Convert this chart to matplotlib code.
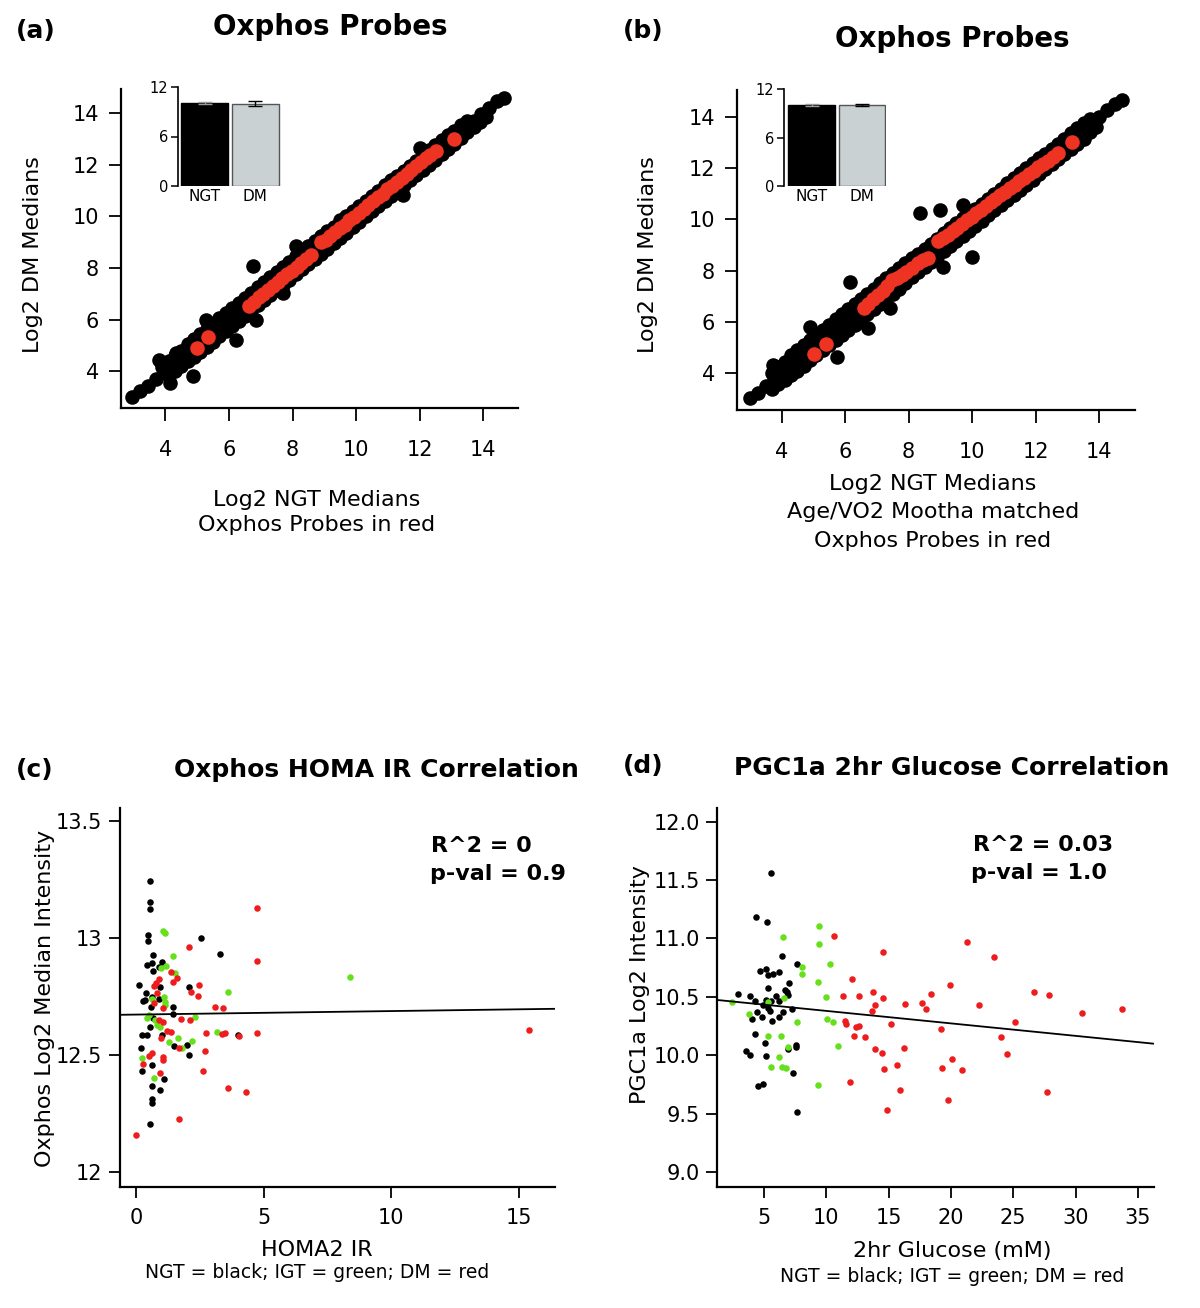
import matplotlib
matplotlib.use('Agg')
import matplotlib.pyplot as plt

plt.rcParams['font.family'] = ['DejaVu Sans']

# ---------------- data: panel (a) ----------------
a_c_x = [2.95,3.2,3.45,3.7,3.95,4.2,4.45,4.7,4.95,5.2,5.45,5.7,5.95,6.2,6.45,6.7,6.95,7.2,7.45,7.7,7.95,8.2,8.45,8.7,
         8.95,9.2,9.45,9.7,9.95,10.2,10.45,10.7,10.95,11.2,11.45,11.7,11.95,12.2,12.45,12.7,12.95,13.2,13.45,13.7,13.95,14.2,14.45,14.65]
a_c_y = [3.0,3.22,3.44,3.72,3.93,4.22,4.43,4.72,4.93,5.22,5.43,5.72,5.95,6.22,6.43,6.72,6.93,7.22,7.45,7.72,7.93,8.22,8.45,8.72,
         8.95,9.22,9.45,9.72,9.95,10.22,10.45,10.72,10.95,11.2,11.45,11.7,11.95,12.2,12.45,12.7,12.95,13.2,13.45,13.7,13.95,14.2,14.45,14.6]
a_up_x = [3.9,4.3,4.7,5.1,5.5,5.9,6.3,6.7,7.1,7.5,7.9,8.3,8.7,9.1,9.5,9.9,10.3,10.7,11.1,11.5,11.9,12.3,12.7,13.1,13.5]
a_up_y = [4.15,4.6,5.05,5.45,5.85,6.25,6.65,7.05,7.45,7.85,8.25,8.65,9.05,9.45,9.85,10.2,10.6,11.0,11.4,11.75,12.15,12.55,12.95,13.3,13.7]
a_up2_x = [4.1,4.5,4.9,5.3,5.7,6.1,6.5,6.9,7.3,7.7,8.1,8.5,8.9,9.3,9.7,10.1,10.5,10.9,11.3,11.7,12.1,12.5,12.9,13.3]
a_up2_y = [4.4,4.8,5.25,5.65,6.05,6.45,6.85,7.25,7.65,8.05,8.45,8.85,9.25,9.6,10.0,10.4,10.8,11.2,11.55,11.95,12.35,12.75,13.15,13.55]
a_lo_x = [4.1,4.5,4.9,5.3,5.7,6.1,6.5,6.9,7.3,7.7,8.1,8.5,8.9,9.3,9.7,10.1,10.5,10.9,11.3,11.7,12.1,12.5,12.9,13.3,13.7,14.1]
a_lo_y = [3.85,4.2,4.55,4.95,5.35,5.75,6.15,6.55,6.95,7.35,7.75,8.15,8.55,8.95,9.35,9.8,10.2,10.6,11.0,11.4,11.8,12.2,12.6,13.05,13.45,13.85]
a_lo2_x = [4.3,4.7,5.1,5.5,5.9,6.3,6.7,7.1,7.5,7.9,8.3,8.7,9.1,9.5,9.9,10.3,10.7,11.1,11.5,11.9,12.3,12.7,13.1,13.5,13.9]
a_lo2_y = [4.0,4.4,4.75,5.15,5.55,5.95,6.35,6.75,7.15,7.55,7.95,8.35,8.75,9.15,9.6,10.0,10.4,10.8,11.2,11.6,12.0,12.4,12.8,13.25,13.65]
a_out_x = [6.75,6.23,6.86,7.70,8.12,4.86,3.81,12.0,11.48,5.28,4.34,4.13]
a_out_y = [8.06,5.23,6.0,7.03,8.84,3.81,4.45,12.65,10.84,6.0,4.71,3.55]
ra_x = [4.98,5.33,6.63,6.78,6.93,7.08,7.23,7.38,7.53,7.68,7.83,7.98,8.13,8.28,8.43,8.57,
        8.89,9.04,9.19,9.34,9.49,9.64,9.79,9.94,10.09,10.24,10.39,10.54,10.69,10.84,10.99,11.14,11.29,11.44,
        11.59,11.74,11.89,12.04,12.19,12.34,12.52,13.1]
ra_y = [4.92,5.31,6.54,6.70,6.86,7.00,7.15,7.31,7.45,7.60,7.76,7.90,8.05,8.21,8.35,8.49,
        9.01,9.10,9.24,9.38,9.55,9.68,9.84,9.99,10.13,10.28,10.44,10.58,10.74,10.88,11.04,11.18,11.34,11.49,
        11.63,11.79,11.94,12.09,12.24,12.38,12.53,13.0]

# ---------------- data: panel (b) ----------------
b_c_x = [3.0,3.25,3.5,3.75,4.0,4.25,4.5,4.75,5.0,5.25,5.5,5.75,6.0,6.25,6.5,6.75,7.0,7.25,7.5,7.75,8.0,8.25,8.5,8.75,
         9.0,9.25,9.5,9.75,10.0,10.25,10.5,10.75,11.0,11.25,11.5,11.75,12.0,12.25,12.5,12.75,13.0,13.25,13.5,13.75,14.0,14.25,14.5,14.7]
b_c_y = [3.02,3.23,3.5,3.73,4.02,4.23,4.5,4.77,5.0,5.27,5.5,5.77,6.02,6.27,6.5,6.77,7.02,7.25,7.5,7.77,8.0,8.27,8.5,8.77,
         9.02,9.25,9.5,9.75,10.0,10.25,10.5,10.75,11.0,11.25,11.5,11.75,12.0,12.25,12.5,12.75,13.0,13.25,13.5,13.75,14.0,14.25,14.5,14.65]
b_up_x = [3.7,4.1,4.5,4.9,5.3,5.7,6.1,6.5,6.9,7.3,7.7,8.1,8.5,8.9,9.3,9.7,10.1,10.5,10.9,11.3,11.7,12.1,12.5,12.9,13.3,13.7]
b_up_y = [4.0,4.45,4.9,5.3,5.7,6.1,6.5,6.9,7.3,7.7,8.1,8.5,8.85,9.25,9.65,10.05,10.4,10.8,11.2,11.6,12.0,12.4,12.75,13.15,13.55,13.9]
b_up2_x = [3.9,4.3,4.7,5.1,5.5,5.9,6.3,6.7,7.1,7.5,7.9,8.3,8.7,9.1,9.5,9.9,10.3,10.7,11.1,11.5,11.9,12.3,12.7,13.1,13.5]
b_up2_y = [4.25,4.7,5.1,5.5,5.9,6.3,6.7,7.1,7.5,7.9,8.3,8.65,9.05,9.45,9.85,10.25,10.6,11.0,11.4,11.8,12.2,12.55,12.95,13.35,13.75]
b_lo_x = [3.9,4.3,4.7,5.1,5.5,5.9,6.3,6.7,7.1,7.5,7.9,8.3,8.7,9.1,9.5,9.9,10.3,10.7,11.1,11.5,11.9,12.3,12.7,13.1,13.5,13.9]
b_lo_y = [3.6,3.95,4.3,4.7,5.1,5.5,5.9,6.3,6.7,7.1,7.5,7.95,8.35,8.75,9.15,9.55,9.95,10.35,10.75,11.15,11.55,11.95,12.35,12.75,13.15,13.6]
b_lo2_x = [3.7,4.1,4.5,4.9,5.3,5.7,6.1,6.5,6.9,7.3,7.7,8.1,8.5,8.9,9.3,9.7,10.1,10.5,10.9,11.3,11.7,12.1,12.5,12.9,13.3,13.7]
b_lo2_y = [3.4,3.75,4.1,4.5,4.9,5.3,5.7,6.1,6.5,6.9,7.3,7.75,8.15,8.55,8.95,9.35,9.75,10.15,10.55,10.95,11.35,11.75,12.15,12.55,12.95,13.4]
b_out_x = [8.35,8.98,9.72,9.98,6.15,6.73,7.41,5.73,9.09,3.74,11.40,4.89]
b_out_y = [10.24,10.37,10.56,8.54,7.57,5.75,6.53,4.65,8.15,4.32,11.14,5.82]
rb_x = [5.01,5.41,6.58,6.73,6.88,7.03,7.18,7.33,7.48,7.63,7.78,7.93,8.10,8.30,8.46,8.62,
        8.93,9.08,9.23,9.38,9.53,9.68,9.83,9.98,10.13,10.28,10.43,10.58,10.73,10.88,11.03,11.18,11.33,11.48,
        11.63,11.78,11.93,12.08,12.23,12.38,12.55,12.71,13.13]
rb_y = [4.75,5.14,6.55,6.72,6.88,7.06,7.22,7.42,7.65,7.72,7.82,7.95,8.09,8.28,8.40,8.50,
        9.15,9.26,9.40,9.54,9.68,9.82,9.96,10.10,10.24,10.38,10.52,10.66,10.80,10.93,11.07,11.21,11.35,11.48,
        11.62,11.75,11.89,12.02,12.15,12.29,12.44,12.57,13.03]

# inset bar data
bar_groups = ['NGT', 'DM']
bar_a = [10.05, 10.0]
err_a = [0.1, 0.3]
bar_b = [10.05, 10.0]
err_b = [0.1, 0.12]

# ---------------- data: panel (c) ----------------
c_ngt_x = [0.55,0.55,0.55,0.48,0.46,0.68,2.54,3.31,0.42,0.62,1.01,0.68,0.88,0.13,0.94,2.09,0.39,0.29,0.35,0.62,0.91,
           0.58,1.46,1.46,0.68,0.55,0.25,0.44,1.01,0.20,1.49,1.99,2.07,4.01,0.22,0.62,1.11,0.62,0.94,0.62,0.64,0.55]
c_ngt_y = [13.244,13.155,13.124,13.013,12.987,12.926,13.00,12.934,12.883,12.892,12.899,12.861,12.877,12.80,12.79,12.79,
           12.767,12.731,12.735,12.749,12.739,12.706,12.706,12.674,12.657,12.621,12.584,12.584,12.585,12.531,12.538,12.543,
           12.50,12.584,12.432,12.457,12.399,12.368,12.350,12.311,12.294,12.205]
c_igt_x = [1.06,1.12,1.46,1.16,0.98,1.53,3.59,0.64,1.10,1.14,1.14,0.52,0.42,0.75,0.94,0.81,2.31,3.16,1.31,1.63,2.21,
           1.80,0.22,0.72,8.39]
c_igt_y = [13.03,13.02,12.923,12.882,12.87,12.849,12.768,12.738,12.749,12.728,12.714,12.671,12.657,12.65,12.621,12.628,
           12.661,12.598,12.554,12.573,12.558,12.529,12.489,12.401,12.832]
c_dm_x = [4.73,4.76,4.73,2.07,1.37,1.62,1.43,0.88,0.78,0.71,2.46,0.84,0.71,2.14,2.42,1.07,3.10,3.40,0.88,1.05,1.76,2.12,
          1.20,1.36,0.97,2.75,3.36,3.49,4.03,1.67,2.69,0.62,0.52,1.05,1.05,0.26,2.64,0.94,3.59,4.30,1.70,0.0,15.42]
c_dm_y = [13.128,12.902,12.593,12.963,12.853,12.83,12.814,12.825,12.806,12.795,12.80,12.767,12.721,12.768,12.754,12.70,
          12.704,12.703,12.65,12.642,12.654,12.65,12.603,12.598,12.573,12.593,12.588,12.595,12.581,12.529,12.516,12.507,
          12.496,12.493,12.479,12.46,12.432,12.422,12.358,12.343,12.226,12.16,12.607]
fit_c = (12.673, 0.0015)   # intercept, slope

# ---------------- data: panel (d) ----------------
d_ngt_x = [5.54,4.33,5.22,6.42,7.63,4.65,5.14,5.35,5.72,6.20,7.01,5.35,6.64,6.85,6.88,2.94,3.85,5.94,5.19,4.31,6.20,5.59,
           4.92,7.22,5.32,5.51,4.04,4.82,5.64,6.16,6.48,4.47,4.25,5.06,3.53,3.85,5.14,6.93,7.57,7.60,7.33,4.52,4.92,7.65]
d_ngt_y = [11.558,11.181,11.139,10.853,10.782,10.719,10.739,10.688,10.697,10.711,10.622,10.574,10.559,10.545,10.517,10.525,
           10.511,10.511,10.474,10.468,10.465,10.463,10.429,10.394,10.403,10.382,10.311,10.326,10.294,10.326,10.369,10.369,
           10.18,10.106,10.038,10.001,9.995,10.052,10.086,10.069,9.847,9.738,9.755,9.513]
d_igt_x = [2.43,6.53,9.39,9.39,10.33,8.08,8.03,9.29,10.01,6.61,5.30,3.75,10.09,10.54,7.65,5.35,6.32,6.93,10.94,6.20,5.54,
           6.40,6.74,9.34]
d_igt_y = [10.459,11.015,11.107,10.953,10.782,10.759,10.696,10.631,10.502,10.488,10.454,10.352,10.314,10.288,10.283,10.166,
           10.166,10.069,10.083,9.984,9.898,9.903,9.89,9.747]
d_dm_x = [10.62,14.51,12.02,11.35,12.63,13.71,13.89,14.56,13.67,11.51,11.54,12.34,12.63,12.20,13.09,15.20,13.89,14.43,14.59,
          15.68,15.90,11.91,14.83,21.28,23.47,19.92,18.39,16.30,17.69,18.01,22.27,26.66,27.87,30.54,33.75,19.19,25.16,23.99,
          24.47,16.20,19.27,20.08,20.88,19.78,27.68]
d_dm_y = [11.021,10.882,10.654,10.511,10.511,10.545,10.434,10.494,10.377,10.294,10.269,10.245,10.252,10.168,10.155,10.266,
          10.055,10.023,9.881,9.918,9.704,9.775,9.533,10.967,10.839,10.602,10.523,10.44,10.446,10.40,10.434,10.54,10.519,
          10.36,10.40,10.226,10.283,10.155,10.015,10.06,9.892,9.969,9.878,9.621,9.684]
fit_d = (10.487, -0.01067)

# ---------------- figure ----------------
W, H = 1200, 1308
fig = plt.figure(figsize=(W / 100, H / 100), dpi=100)


def ax_px(l, t, r, b):
    return fig.add_axes([l / W, 1 - b / H, (r - l) / W, (b - t) / H])


def T(x, y, s, **kw):
    kw.setdefault('ha', 'center')
    kw.setdefault('va', 'center')
    fig.text(x / W, 1 - y / H, s, **kw)


def style(ax, ticklen, xpad, ypad, fs):
    for sp in ['top', 'right']:
        ax.spines[sp].set_visible(False)
    for sp in ['left', 'bottom']:
        ax.spines[sp].set_linewidth(1.6)
    ax.tick_params(direction='out', length=ticklen, width=1.3, labelsize=fs)
    ax.tick_params(axis='x', pad=xpad)
    ax.tick_params(axis='y', pad=ypad)


BIG = 110
RED_AB = '#ee3322'

# panel (a)
axa = ax_px(121, 89, 518, 408)
axa.scatter(a_c_x + a_up_x + a_up2_x + a_lo_x + a_lo2_x + a_out_x,
            a_c_y + a_up_y + a_up2_y + a_lo_y + a_lo2_y + a_out_y, s=BIG, c='black', linewidths=0)
axa.scatter(ra_x, ra_y, s=BIG, c=RED_AB, linewidths=0)
axa.set_xlim(2.6, 15.1)
axa.set_ylim(2.58, 14.93)
axa.set_xticks([4, 6, 8, 10, 12, 14])
axa.set_yticks([4, 6, 8, 10, 12, 14])
style(axa, 9, 14, 7, 15)

# panel (b)
axb = ax_px(737, 90, 1135, 410)
axb.scatter(b_c_x + b_up_x + b_up2_x + b_lo_x + b_lo2_x + b_out_x,
            b_c_y + b_up_y + b_up2_y + b_lo_y + b_lo2_y + b_out_y, s=BIG, c='black', linewidths=0)
axb.scatter(rb_x, rb_y, s=BIG, c=RED_AB, linewidths=0)
axb.set_xlim(2.6, 15.12)
axb.set_ylim(2.57, 15.04)
axb.set_xticks([4, 6, 8, 10, 12, 14])
axb.set_yticks([4, 6, 8, 10, 12, 14])
style(axb, 9, 14, 7, 15)


def inset(box, vals, errs, width, xl):
    ax = ax_px(*box)
    ax.bar([0, 1], vals, width=width, color=['black', '#c9d1d3'],
           edgecolor=['black', '#555555'], linewidth=1.0)
    ax.errorbar([0], [vals[0]], yerr=[errs[0]], fmt='none', ecolor='#999999', capsize=5, lw=1)
    ax.errorbar([1], [vals[1]], yerr=[errs[1]], fmt='none', ecolor='black', capsize=5, lw=1)
    ax.set_xlim(*xl)
    ax.set_ylim(0, 12)
    ax.set_yticks([0, 6, 12])
    ax.set_xticks([0, 1])
    ax.set_xticklabels(bar_groups)
    for sp in ['top', 'right', 'bottom']:
        ax.spines[sp].set_visible(False)
    ax.spines['left'].set_linewidth(1.2)
    ax.tick_params(axis='y', length=5, width=1.1, labelsize=10.5, pad=2)
    ax.tick_params(axis='x', length=0, labelsize=11, pad=2)
    ax.patch.set_alpha(0)
    return ax


inset((178, 87, 282, 186), bar_a, err_a, 0.94, (-0.53, 1.53))
inset((784, 89, 886, 186), bar_b, err_b, 0.925, (-0.55, 1.48))

# panel (c)
GREEN = '#66e01a'
RED = '#ee1c1c'
SM = 22
axc = ax_px(120, 808, 555, 1187)
axc.scatter(c_ngt_x, c_ngt_y, s=SM, c='black', linewidths=0)
axc.scatter(c_igt_x, c_igt_y, s=SM, c=GREEN, linewidths=0)
axc.scatter(c_dm_x, c_dm_y, s=SM, c=RED, linewidths=0)
xc = [-0.63, 16.43]
axc.plot(xc, [fit_c[0] + fit_c[1] * v for v in xc], color='black', lw=1.3)
axc.set_xlim(*xc)
axc.set_ylim(11.936, 13.556)
axc.set_xticks([0, 5, 10, 15])
axc.set_yticks([12, 12.5, 13, 13.5])
axc.set_yticklabels(['12', '12.5', '13', '13.5'])
style(axc, 8, 7, 5, 15)

# panel (d)
axd = ax_px(717, 808, 1154, 1187)
axd.scatter(d_ngt_x, d_ngt_y, s=SM, c='black', linewidths=0)
axd.scatter(d_igt_x, d_igt_y, s=SM, c=GREEN, linewidths=0)
axd.scatter(d_dm_x, d_dm_y, s=SM, c=RED, linewidths=0)
xd = [1.22, 36.3]
axd.plot(xd, [fit_d[0] + fit_d[1] * v for v in xd], color='black', lw=1.3)
axd.set_xlim(*xd)
axd.set_ylim(8.874, 12.116)
axd.set_xticks([5, 10, 15, 20, 25, 30, 35])
axd.set_yticks([9.0, 9.5, 10.0, 10.5, 11.0, 11.5, 12.0])
axd.set_yticklabels(['9.0', '9.5', '10.0', '10.5', '11.0', '11.5', '12.0'])
style(axd, 8, 7, 4, 15)

# ---------------- texts ----------------
PL = dict(fontsize=18, fontweight='bold', ha='left')
T(16, 31, '(a)', **PL)
T(623, 31, '(b)', **PL)
T(16, 770, '(c)', **PL)
T(623, 766, '(d)', **PL)

T(330, 27, 'Oxphos Probes', fontsize=20, fontweight='bold')
T(952, 39, 'Oxphos Probes', fontsize=20, fontweight='bold')
T(376, 770, 'Oxphos HOMA IR Correlation', fontsize=18, fontweight='bold')
T(952, 768, 'PGC1a 2hr Glucose Correlation', fontsize=18, fontweight='bold')

LAB = dict(fontsize=16)
T(33, 255, 'Log2 DM Medians', rotation=90, **LAB)
T(648, 255, 'Log2 DM Medians', rotation=90, **LAB)
T(317, 500, 'Log2 NGT Medians', **LAB)
T(317, 525, 'Oxphos Probes in red', **LAB)
T(933, 484, 'Log2 NGT Medians', **LAB)
T(933, 512, 'Age/VO2 Mootha matched', **LAB)
T(933, 541, 'Oxphos Probes in red', **LAB)

T(45, 998, 'Oxphos Log2 Median Intensity', rotation=90, **LAB)
T(640, 985, 'PGC1a Log2 Intensity', rotation=90, **LAB)
T(317, 1250, 'HOMA2 IR', **LAB)
T(317, 1273, 'NGT = black; IGT = green; DM = red', fontsize=13.5)
T(952, 1251, '2hr Glucose (mM)', **LAB)
T(952, 1277, 'NGT = black; IGT = green; DM = red', fontsize=13.5)

ST = dict(fontsize=16, fontweight='bold', ha='left')
T(431, 846, 'R^2 = 0', **ST)
T(430, 874, 'p-val = 0.9', **ST)
T(973, 845, 'R^2 = 0.03', **ST)
T(971, 873, 'p-val = 1.0', **ST)

fig.savefig('out.png', dpi=100)
